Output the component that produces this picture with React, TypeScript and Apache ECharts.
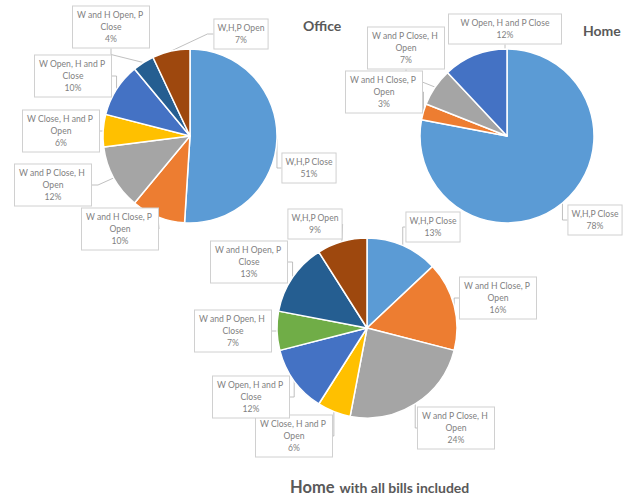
import React, { useEffect, useRef } from "react";
import * as echarts from "echarts";

const categories = [
  "W,H,P Close",
  "W and H Close, P Open",
  "W and P Close, H Open",
  "W Close, H and P Open",
  "W Open, H and P Close",
  "W and P Open, H Close",
  "W and H Open, P Close",
  "W,H,P Open",
];
const officeValues = [51, 10, 12, 6, 10, null, 4, 7];
const homeValues = [78, 3, 7, null, 12, null, null, null];
const allBillsValues = [13, 16, 24, 6, 12, 7, 13, 9];
const titles = ["Office", "Home", "Home", "with all bills included"];

const colors = ["#5B9BD5", "#ED7D31", "#A5A5A5", "#FFC000", "#4472C4", "#70AD47", "#255E91", "#9E480E"];

// label box centres (layout only), keyed by category index
const officeLabelPos: Record<number, number[]> = {
  0: [309, 168], 1: [120, 229], 2: [53, 185], 3: [61, 131], 4: [73, 76], 6: [111, 27], 7: [241, 34],
};
const homeLabelPos: Record<number, number[]> = {
  0: [595, 220], 1: [384, 92], 2: [406, 48], 4: [505, 29],
};
const allLabelPos: Record<number, number[]> = {
  0: [433, 227], 1: [498, 298], 2: [456, 428], 3: [294, 436], 4: [251, 397], 5: [233, 331], 6: [249, 262], 7: [315, 224],
};
const homeWideLabel: Record<number, number> = { 4: 106 };

const FONT = "Lato, 'Liberation Sans', sans-serif";

function buildData(values: (number | null)[], wide: Record<number, number>) {
  const idx: number[] = [];
  const data: any[] = [];
  values.forEach((v, i) => {
    if (v == null) return;
    idx.push(i);
    const name = categories[i];
    const short = name.length <= 12;
    const w = wide[i] != null ? wide[i] : short ? undefined : 70;
    data.push({
      name,
      value: v,
      itemStyle: { color: colors[i] },
      label: w != null ? { width: w, overflow: "break" } : { width: undefined },
    });
  });
  return { idx, data };
}

export default function App() {
  const ref = useRef<HTMLDivElement>(null);
  useEffect(() => {
    document.body.style.margin = "0";
    if (!ref.current) return;
    const chart = echarts.init(ref.current, null, { renderer: "svg" });
    const office = buildData(officeValues, {});
    const home = buildData(homeValues, homeWideLabel);
    const all = buildData(allBillsValues, {});
    const posList = [officeLabelPos, homeLabelPos, allLabelPos];
    const idxList = [office.idx, home.idx, all.idx];

    const makeSeries = (d: any, center: number[], r: number) => ({
      type: "pie",
      center,
      radius: r,
      startAngle: 90,
      clockwise: true,
      avoidLabelOverlap: false,
      percentPrecision: 0,
      data: d.data,
      itemStyle: { borderColor: "#ffffff", borderWidth: 1.5 },
      label: {
        show: true,
        position: "outside",
        formatter: "{b}\n{d}%",
        color: "#7f7f7f",
        fontFamily: FONT,
        fontSize: 8.6,
        lineHeight: 12,
        align: "center",
        backgroundColor: "#ffffff",
        borderColor: "#d0d0d0",
        borderWidth: 1,
        padding: [3, 3, 2, 3],
      },
      labelLine: {
        show: true,
        length: 6,
        length2: 6,
        lineStyle: { color: "#b0b0b0", width: 0.8 },
      },
      labelLayout: (params: any) => {
        const cat = idxList[params.seriesIndex][params.dataIndex];
        const p = posList[params.seriesIndex][cat];
        if (!p) return {};
        return { x: p[0], y: p[1], align: "center", verticalAlign: "middle" };
      },
      emphasis: { disabled: true },
    });

    chart.setOption({
      animation: false,
      backgroundColor: "#ffffff",
      title: [
        {
          text: titles[0],
          left: 303,
          top: 18,
          padding: 0,
          textStyle: { fontFamily: FONT, fontSize: 14, fontWeight: "bold", color: "#595959" },
        },
        {
          text: titles[1],
          left: 583,
          top: 23,
          padding: 0,
          textStyle: { fontFamily: FONT, fontSize: 14, fontWeight: "bold", color: "#595959" },
        },
        {
          text: `{a|${titles[2]}} {b|${titles[3]}}`,
          left: 290,
          top: 478,
          padding: 0,
          textStyle: {
            rich: {
              a: { fontFamily: FONT, fontSize: 16.5, fontWeight: "bold", color: "#595959" },
              b: { fontFamily: FONT, fontSize: 14, fontWeight: "bold", color: "#595959" },
            },
          },
        },
      ],
      series: [
        makeSeries(office, [190, 136], 87),
        makeSeries(home, [507, 136], 87),
        makeSeries(all, [367, 328], 90),
      ],
    });
    return () => chart.dispose();
  }, []);
  return <div ref={ref} style={{ width: 636, height: 498 }} />;
}
